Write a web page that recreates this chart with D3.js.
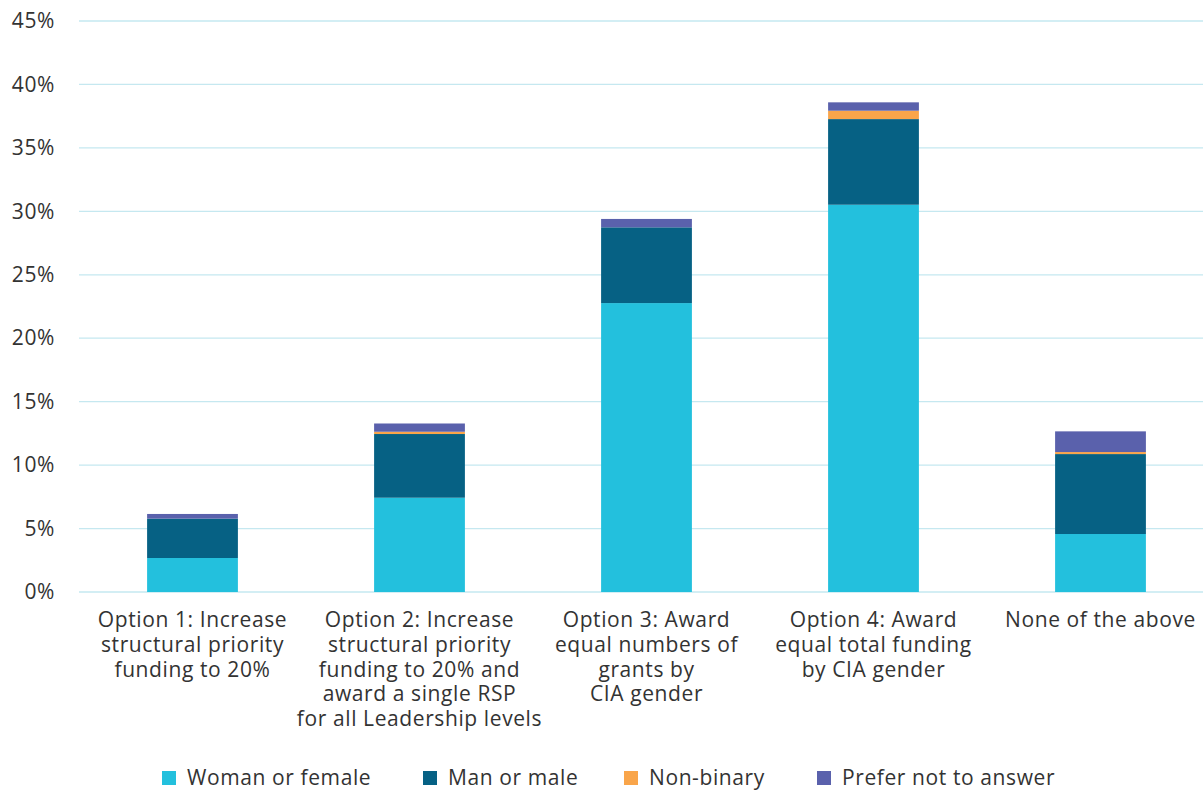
<!DOCTYPE html>
<html>
<head>
<meta charset="utf-8">
<script src="https://cdn.jsdelivr.net/npm/d3@7"></script>
<style>
  body { margin: 0; background: #fff; }
  svg { display: block; font-family: "Open Sans", sans-serif; }
  text { letter-spacing: 0.6px; }
</style>
</head>
<body>
<div id="chart"></div>
<script>
var categories = [
    ["Option 1: Increase", "structural priority", "funding to 20%"],
    ["Option 2: Increase", "structural priority", "funding to 20% and", "award a single RSP", "for all Leadership levels"],
    ["Option 3: Award", "equal numbers of", "grants by", "CIA gender"],
    ["Option 4: Award", "equal total funding", "by CIA gender"],
    ["None of the above"]
];
var seriesNames = ["Woman or female", "Man or male", "Non-binary", "Prefer not to answer"];
var woman = [2.68, 7.43, 22.77, 30.52, 4.57];
var man = [3.10, 5.02, 5.97, 6.75, 6.30];
var nonBinary = [0, 0.18, 0, 0.66, 0.16];
var preferNot = [0.37, 0.65, 0.66, 0.66, 1.63];
var yTicks = [0, 5, 10, 15, 20, 25, 30, 35, 40, 45];

var colors = ["#23c0dd", "#066184", "#f9a54a", "#5a61ac"];

var width = 1203, height = 790;
var margin = {top: 21, left: 79, bottom: 198};
var fontSize = "21px";

var svg = d3.select("#chart").append("svg")
    .attr("width", width)
    .attr("height", height);

var rows = categories.map(function (c, i) {
    return {idx: i, w: woman[i], m: man[i], n: nonBinary[i], p: preferNot[i]};
});

var x = d3.scaleBand()
    .domain(d3.range(categories.length))
    .range([margin.left, margin.left + 5 * 227])
    .paddingInner(0.6)
    .paddingOuter(0.3);

var y = d3.scaleLinear()
    .domain([0, 45])
    .range([height - margin.bottom, margin.top]);

// gridlines
svg.append("g")
    .selectAll("line")
    .data(yTicks)
    .enter()
    .append("line")
    .attr("x1", margin.left)
    .attr("x2", width)
    .attr("y1", function (d) { return y(d); })
    .attr("y2", function (d) { return y(d); })
    .attr("stroke", "#c5e8f0")
    .attr("stroke-width", 1.3);

// y axis labels
var yAxis = svg.append("g")
    .attr("transform", "translate(" + (margin.left - 21) + ",0)")
    .call(d3.axisLeft(y).tickValues(yTicks).tickSize(0).tickFormat(function (d) { return d + "%"; }));
yAxis.select(".domain").remove();
yAxis.selectAll("text")
    .style("font-family", "Open Sans, sans-serif")
    .style("font-size", fontSize)
    .attr("fill", "#333");

// stacked bars
var stack = d3.stack().keys(["w", "m", "n", "p"]);
var layers = stack(rows);

svg.append("g")
    .selectAll("g")
    .data(layers)
    .enter()
    .append("g")
    .attr("fill", function (d, i) { return colors[i]; })
    .selectAll("rect")
    .data(function (d) { return d; })
    .enter()
    .append("rect")
    .attr("x", function (d) { return x(d.data.idx); })
    .attr("width", x.bandwidth())
    .attr("y", function (d) { return y(d[1]); })
    .attr("height", function (d) { return Math.max(0, y(d[0]) - y(d[1])); });

// category labels
var xl = svg.append("g")
    .selectAll("text")
    .data(categories)
    .enter()
    .append("text")
    .attr("x", function (d, i) { return x(i) + x.bandwidth() / 2; })
    .attr("y", y(0) + 35)
    .attr("text-anchor", "middle")
    .attr("fill", "#333")
    .style("font-size", fontSize);
xl.selectAll("tspan")
    .data(function (d) { return d; })
    .enter()
    .append("tspan")
    .attr("x", function () { return d3.select(this.parentNode).attr("x"); })
    .attr("dy", function (d, i) { return i === 0 ? 0 : 24.8; })
    .text(function (d) { return d; });

// legend
var legendX = [162, 423, 624, 817];
var legend = svg.append("g")
    .selectAll("g")
    .data(seriesNames)
    .enter()
    .append("g")
    .attr("transform", function (d, i) { return "translate(" + legendX[i] + ",771)"; });
legend.append("rect")
    .attr("width", 14)
    .attr("height", 14)
    .attr("fill", function (d, i) { return colors[i]; });
legend.append("text")
    .attr("x", 25)
    .attr("y", 14)
    .attr("fill", "#333")
    .style("font-size", fontSize)
    .text(function (d) { return d; });
</script>
</body>
</html>
